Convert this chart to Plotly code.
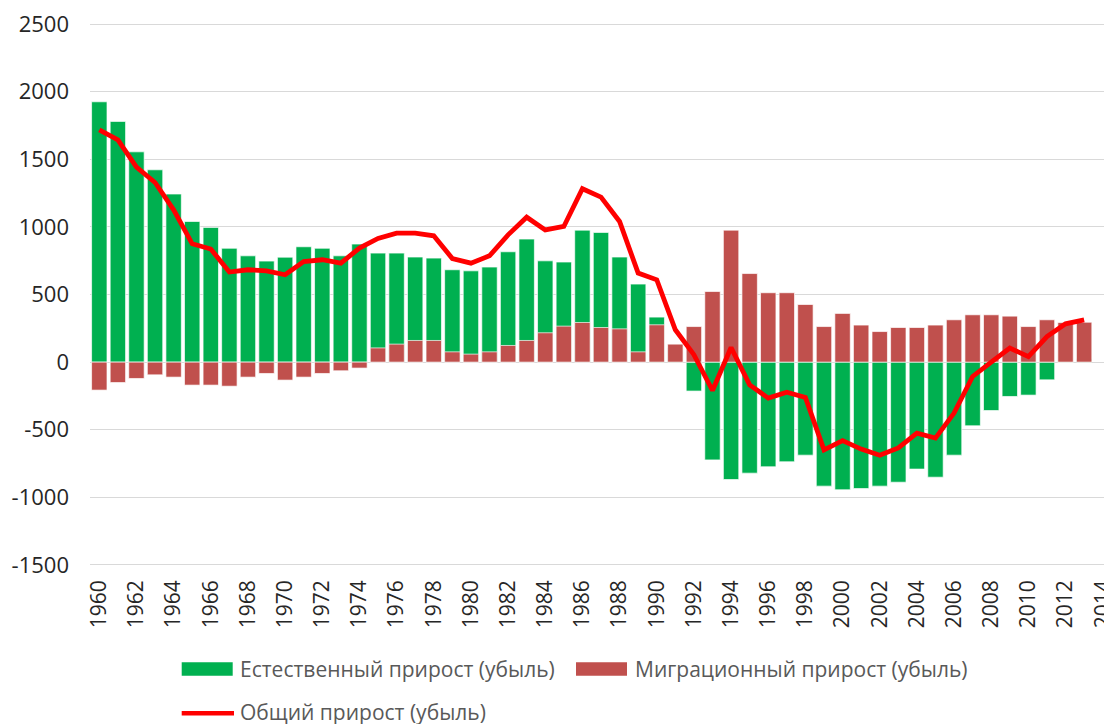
import plotly.graph_objects as go

# ---- data ----
years = [str(y) for y in range(1960, 2014)]
all_categories = [str(y) for y in range(1960, 2015)]
tick_labels = [str(y) for y in range(1960, 2015, 2)]

natural = [1925, 1780, 1555, 1422, 1243, 1040, 996, 842, 786, 747,
           776, 853, 842, 786, 873, 806, 806, 777, 769, 683,
           675, 703, 816, 910, 749, 740, 976, 959, 777, 577,
           333, 104, -214, -723, -868, -821, -774, -737, -688, -917,
           -944, -935, -917, -888, -791, -851, -688, -471, -358, -254,
           -244, -131, -3, 24]

migration = [-207, -151, -121, -94, -111, -170, -170, -178, -111, -84,
             -133, -111, -84, -64, -44, 105, 133, 160, 160, 76,
             59, 76, 123, 160, 217, 266, 293, 256, 246, 76,
             276, 133, 263, 522, 976, 655, 513, 513, 426, 263,
             360, 274, 226, 256, 256, 274, 313, 350, 350, 340,
             263, 313, 293, 295]

total = [1718, 1644, 1442, 1328, 1126, 875, 836, 666, 683, 675,
         646, 744, 757, 732, 843, 915, 954, 954, 934, 766,
         732, 786, 941, 1072, 978, 1003, 1282, 1220, 1040, 658,
         609, 239, 55, -210, 108, -168, -266, -222, -262, -649,
         -580, -643, -688, -634, -525, -562, -377, -106, 0, 104,
         41, 189, 283, 313]

y_ticks = [-1500, -1000, -500, 0, 500, 1000, 1500, 2000, 2500]

names = ["Естественный прирост (убыль)", "Миграционный прирост (убыль)", "Общий прирост (убыль)"]

GREEN = "#00B050"
BROWN = "#C0504D"
RED = "#FF0000"
FONT = "Open Sans"

# the page body adds an 8 px offset; size the figure so it fills the window
OFF = 8
W, H = 1112 - OFF, 724 - OFF
ML, MR, MT, MB = 90 - OFF, 0, 22 - OFF, 157

fig = go.Figure()
fig.add_trace(go.Bar(x=years, y=natural, name=names[0], marker=dict(color=GREEN, line=dict(color="rgba(255,255,255,0.85)", width=0.8)), showlegend=False))
fig.add_trace(go.Bar(x=years, y=migration, name=names[1], marker=dict(color=BROWN, line=dict(color="rgba(255,255,255,0.85)", width=0.8)), showlegend=False))
fig.add_trace(go.Scatter(x=years, y=total, name=names[2], mode="lines", line=dict(color=RED, width=4.8), showlegend=False))

fig.update_layout(
    width=W, height=H,
    margin=dict(l=ML, r=MR, t=MT, b=MB),
    barmode="overlay", bargap=0.17,
    paper_bgcolor="white", plot_bgcolor="white",
    font=dict(family=FONT, size=22, color="#262626"),
)
fig.update_xaxes(
    type="category", categoryorder="array", categoryarray=all_categories,
    range=[-0.5, len(all_categories) - 0.5],
    tickmode="array", tickvals=tick_labels, ticktext=tick_labels,
    tickangle=-90, showgrid=False, ticks="", ticklabelstandoff=8,
    tickfont=dict(family=FONT, size=21, color="#262626"),
    showline=False, zeroline=False, automargin=False, ticklabeloverflow="allow",
)
fig.update_yaxes(
    range=[-1515, 2515], tickmode="array", tickvals=y_ticks, ticktext=[str(v) for v in y_ticks],
    showgrid=True, gridcolor="#D9D9D9", gridwidth=1,
    zeroline=True, zerolinecolor="#D9D9D9", zerolinewidth=1,
    ticks="", ticklabelstandoff=20, showline=False, automargin=False, ticklabeloverflow="allow",
    tickfont=dict(family=FONT, size=22, color="#262626"),
)

# ---- legend drawn manually (swatches + real text), positioned in window pixels ----
PW = W - ML - MR
PH = H - MT - MB

def px_x(v):
    return (v - OFF - ML) / PW

def px_y(v):
    return (H - MB - (v - OFF)) / PH

legend_items = [
    (181.7, 232.7, 662.3, 675.7, GREEN, "rect", 238, 669, names[0]),
    (576, 627, 662.3, 675.7, BROWN, "rect", 633, 669, names[1]),
    (181.7, 234, 713.3, 713.3, RED, "line", 238, 712, names[2]),
]
for x0, x1, y0, y1, col, kind, tx, ty, label in legend_items:
    if kind == "rect":
        fig.add_shape(type="rect", xref="paper", yref="paper",
                      x0=px_x(x0), x1=px_x(x1), y0=px_y(y1), y1=px_y(y0),
                      fillcolor=col, line=dict(width=0))
    else:
        fig.add_shape(type="line", xref="paper", yref="paper",
                      x0=px_x(x0), x1=px_x(x1), y0=px_y(y0), y1=px_y(y0),
                      line=dict(color=col, width=4.5))
    fig.add_annotation(xref="paper", yref="paper", x=px_x(tx), y=px_y(ty),
                       xanchor="left", yanchor="middle", showarrow=False,
                       text=label, font=dict(family=FONT, size=21, color="#595959"))

fig.write_html("out.html")
